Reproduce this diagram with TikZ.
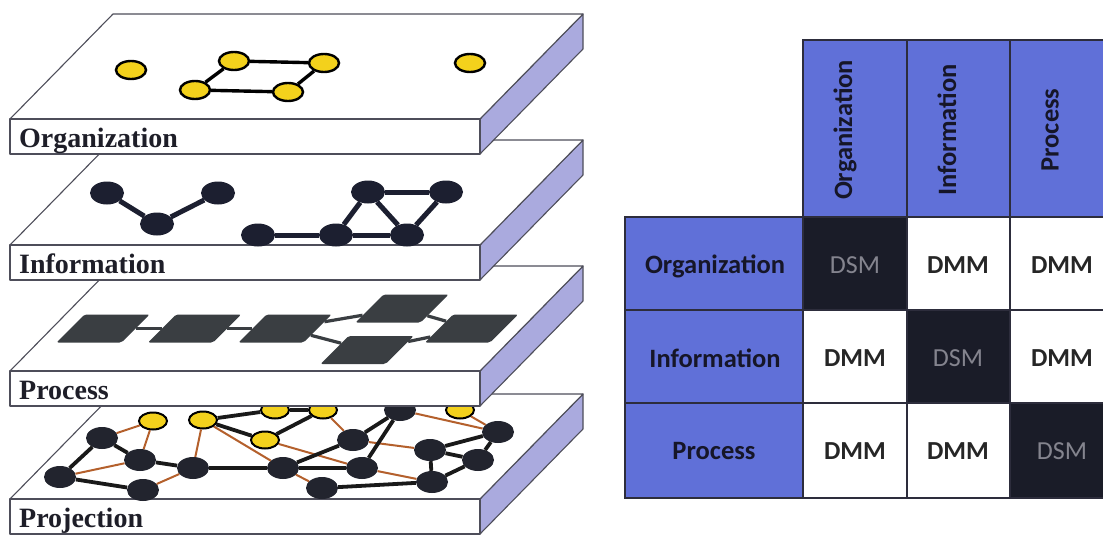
\documentclass[tikz,border=0pt]{standalone}
\usepackage{fontspec}
\setmainfont{Liberation Serif}
\newfontfamily\carlito{Carlito}
\usetikzlibrary{shapes.geometric}
\definecolor{sidecol}{RGB}{170,170,222}
\definecolor{edgegray}{RGB}{78,78,90}
\definecolor{yelfill}{RGB}{243,209,28}
\definecolor{dkfill}{RGB}{28,31,48}
\definecolor{projdk}{RGB}{34,36,46}
\definecolor{procfill}{RGB}{58,62,66}
\definecolor{brownline}{RGB}{180,96,44}
\definecolor{matblue}{RGB}{96,112,216}
\definecolor{cellblack}{RGB}{26,28,40}
\definecolor{dsmgray}{RGB}{132,132,142}
\definecolor{labtext}{RGB}{30,30,40}
\definecolor{hdrtext}{RGB}{22,22,40}
\definecolor{matline}{RGB}{45,45,60}
\newcommand\slabfaces[1]{%
  \path[sideface] (480,#1) -- (583,#1-105) -- (583,#1-70) -- (480,#1+35) -- cycle;
  \path[face] (10,#1) -- (113,#1-105) -- (583,#1-105) -- (480,#1) -- cycle;
  \path[face] (10,#1) rectangle (480,#1+35);
}
\begin{document}
\begin{tikzpicture}[x=1pt,y=-1pt,
  face/.style={draw=edgegray,line width=1.1pt,line join=round,fill=white},
  sideface/.style={draw=edgegray,line width=1.1pt,line join=round,fill=sidecol},
  lbl/.style={font=\fontsize{28}{28}\selectfont\bfseries,text=labtext,inner sep=0pt,anchor=base west},
  yel/.style={ellipse,draw=black,line width=2.4pt,fill=yelfill,minimum width=30pt,minimum height=18pt,inner sep=0pt},
  dk/.style={ellipse,fill=dkfill,draw=none,minimum width=34pt,minimum height=23pt,inner sep=0pt},
  pk/.style={ellipse,fill=projdk,draw=none,minimum width=32pt,minimum height=22pt,inner sep=0pt},
  py/.style={ellipse,draw=black,line width=2pt,fill=yelfill,minimum width=28pt,minimum height=17pt,inner sep=0pt},
  proc/.style={rectangle,xslant=1,fill=procfill,minimum width=65pt,minimum height=28pt,inner sep=0pt,rounded corners=2pt},
  oedge/.style={black,line width=3.4pt},
  iedge/.style={dkfill,line width=5pt},
  pedge/.style={procfill,line width=3.2pt},
  bedge/.style={black!90,line width=3.8pt},
  redge/.style={brownline,line width=2pt},
  mline/.style={draw=matline,line width=1.3pt},
  hdr/.style={font=\carlito\bfseries\fontsize{26.5}{26.5}\selectfont,text=hdrtext,inner sep=0pt},
  dmm/.style={font=\carlito\bfseries\fontsize{26}{26}\selectfont,text=black!85,inner sep=0pt},
  dsm/.style={font=\carlito\fontsize{26}{26}\selectfont,text=dsmgray,inner sep=0pt},
]
\useasboundingbox (0,0) rectangle (1103,535);
\clip (0,0) rectangle (1103,535);

% ---------------- Projection slab ----------------
\slabfaces{499}
\node[lbl] (labproj) at (19,527) {Projection};
\node[py] (y0) at (153,421) {};
\node[py] (y1) at (203,420) {};
\node[py] (y2) at (275,410) {};
\node[py] (y3) at (323,410) {};
\node[py] (y4) at (265,440) {};
\node[py] (y5) at (460,410) {};
\node[pk] (d1) at (102,438) {};
\node[pk] (d2) at (140,460) {};
\node[pk] (d3) at (60,477) {};
\node[pk] (d4) at (143,490) {};
\node[pk] (d5) at (193,468) {};
\node[pk] (d6) at (283,468) {};
\node[pk] (d7) at (353,440) {};
\node[pk] (d8) at (362,468) {};
\node[pk] (d9) at (322,488) {};
\node[pk] (d10) at (400,410) {};
\node[pk] (d11) at (498,432) {};
\node[pk] (d12) at (430,450) {};
\node[pk] (d13) at (478,460) {};
\node[pk] (d14) at (432,482) {};
% brown projection links
\draw[redge] (y0) -- (d1);
\draw[redge] (y0) -- (d2);
\draw[redge] (d3) -- (d2);
\draw[redge] (d4) -- (d5);
\draw[redge] (y1) -- (d5);
\draw[redge] (y1) -- (d6);
\draw[redge] (d6) -- (d9);
\draw[redge] (y3) -- (d7);
\draw[redge] (y4) -- (d8);
\draw[redge] (d7) -- (d12);
\draw[redge] (d8) -- (d14);
\draw[redge] (y5) -- (d11);
\draw[redge] (d10) -- (d11);
% black links
\draw[bedge] (d3) -- (d1);
\draw[bedge] (d1) -- (d2);
\draw[bedge] (d3) -- (d4);
\draw[bedge] (d2) -- (d5);
\draw[bedge] (d5) -- (d6);
\draw[bedge] (d6) -- (d7);
\draw[bedge] (d6) -- (d8);
\draw[bedge] (d7) -- (d10);
\draw[bedge] (d8) -- (d10);
\draw[bedge] (d9) -- (d14);
\draw[bedge] (d12) -- (d11);
\draw[bedge] (d11) -- (d13);
\draw[bedge] (d12) -- (d14);
\draw[bedge] (d13) -- (d14);
\draw[bedge] (d12) -- (d13);
\draw[bedge] (y1) -- (y2);
\draw[bedge] (y2) -- (y3);
\draw[bedge] (y1) -- (y4);
\draw[bedge] (y4) -- (y3);

% ---------------- Process slab ----------------
\slabfaces{371}
\node[lbl] (labproc) at (19,399) {Process};
\node[proc] (p1) at (103,328.5) {};
\node[proc] (p2) at (194.5,328.5) {};
\node[proc] (p3) at (285,328.5) {};
\node[proc] (p4) at (402,308.5) {};
\node[proc] (p5) at (367,350) {};
\node[proc] (p6) at (471.5,328.5) {};
\draw[pedge] (p1) -- (p2);
\draw[pedge] (p2) -- (p3);
\draw[pedge] (p3) -- (p4);
\draw[pedge] (p3) -- (p5);
\draw[pedge] (p4) -- (p6);
\draw[pedge] (p5) -- (p6);

% ---------------- Information slab ----------------
\slabfaces{245}
\node[lbl] (labinfo) at (19,273) {Information};
\node[dk] (i1) at (107,193) {};
\node[dk] (i2) at (157,224) {};
\node[dk] (i3) at (218,193) {};
\node[dk] (i4) at (258,235) {};
\node[dk] (i5) at (336,235) {};
\node[dk] (i6) at (407,235) {};
\node[dk] (i7) at (368,192) {};
\node[dk] (i8) at (446,192) {};
\draw[iedge] (i1) -- (i2);
\draw[iedge] (i2) -- (i3);
\draw[iedge] (i4) -- (i5);
\draw[iedge] (i5) -- (i6);
\draw[iedge] (i5) -- (i7);
\draw[iedge] (i7) -- (i8);
\draw[iedge] (i7) -- (i6);
\draw[iedge] (i8) -- (i6);

% ---------------- Organization slab ----------------
\slabfaces{119}
\node[lbl] (laborg) at (19,147) {Organization};
\node[yel] (o1) at (131,70) {};
\node[yel] (o2) at (234,61) {};
\node[yel] (o3) at (324,63) {};
\node[yel] (o4) at (195,90) {};
\node[yel] (o5) at (288,92) {};
\node[yel] (o6) at (470,63) {};
\draw[oedge] (o2) -- (o3);
\draw[oedge] (o2) -- (o4);
\draw[oedge] (o4) -- (o5);
\draw[oedge] (o5) -- (o3);

% ---------------- Matrix ----------------
\path[mline,fill=matblue] (803,40) rectangle (907,217);
\path[mline,fill=matblue] (907,40) rectangle (1010,217);
\path[mline,fill=matblue] (1010,40) rectangle (1114,217);
\path[mline,fill=matblue] (625,217) rectangle (803,310);
\path[mline,fill=matblue] (625,310) rectangle (803,403);
\path[mline,fill=matblue] (625,403) rectangle (803,498);
\path[mline,fill=cellblack] (803,217) rectangle (907,310);
\path[mline,fill=white] (907,217) rectangle (1010,310);
\path[mline,fill=white] (1010,217) rectangle (1114,310);
\path[mline,fill=white] (803,310) rectangle (907,403);
\path[mline,fill=cellblack] (907,310) rectangle (1010,403);
\path[mline,fill=white] (1010,310) rectangle (1114,403);
\path[mline,fill=white] (803,403) rectangle (907,498);
\path[mline,fill=white] (907,403) rectangle (1010,498);
\path[mline,fill=cellblack] (1010,403) rectangle (1114,498);

\node[hdr,rotate=90] (ch1) at (845,130) {Organization};
\node[hdr,rotate=90] (ch2) at (947,130) {Information};
\node[hdr,rotate=90] (ch3) at (1050,130) {Process};
\node[hdr] (rh1) at (715,266) {Organization};
\node[hdr] (rh2) at (715,358) {Information};
\node[hdr] (rh3) at (714,451) {Process};
\node[dsm] (c11) at (855,265) {DSM};
\node[dmm] (c12) at (958,265) {DMM};
\node[dmm] (c13) at (1062,265) {DMM};
\node[dmm] (c21) at (855,358) {DMM};
\node[dsm] (c22) at (958,358) {DSM};
\node[dmm] (c23) at (1062,358) {DMM};
\node[dmm] (c31) at (855,451) {DMM};
\node[dmm] (c32) at (958,451) {DMM};
\node[dsm] (c33) at (1062,451) {DSM};
\end{tikzpicture}
\end{document}
